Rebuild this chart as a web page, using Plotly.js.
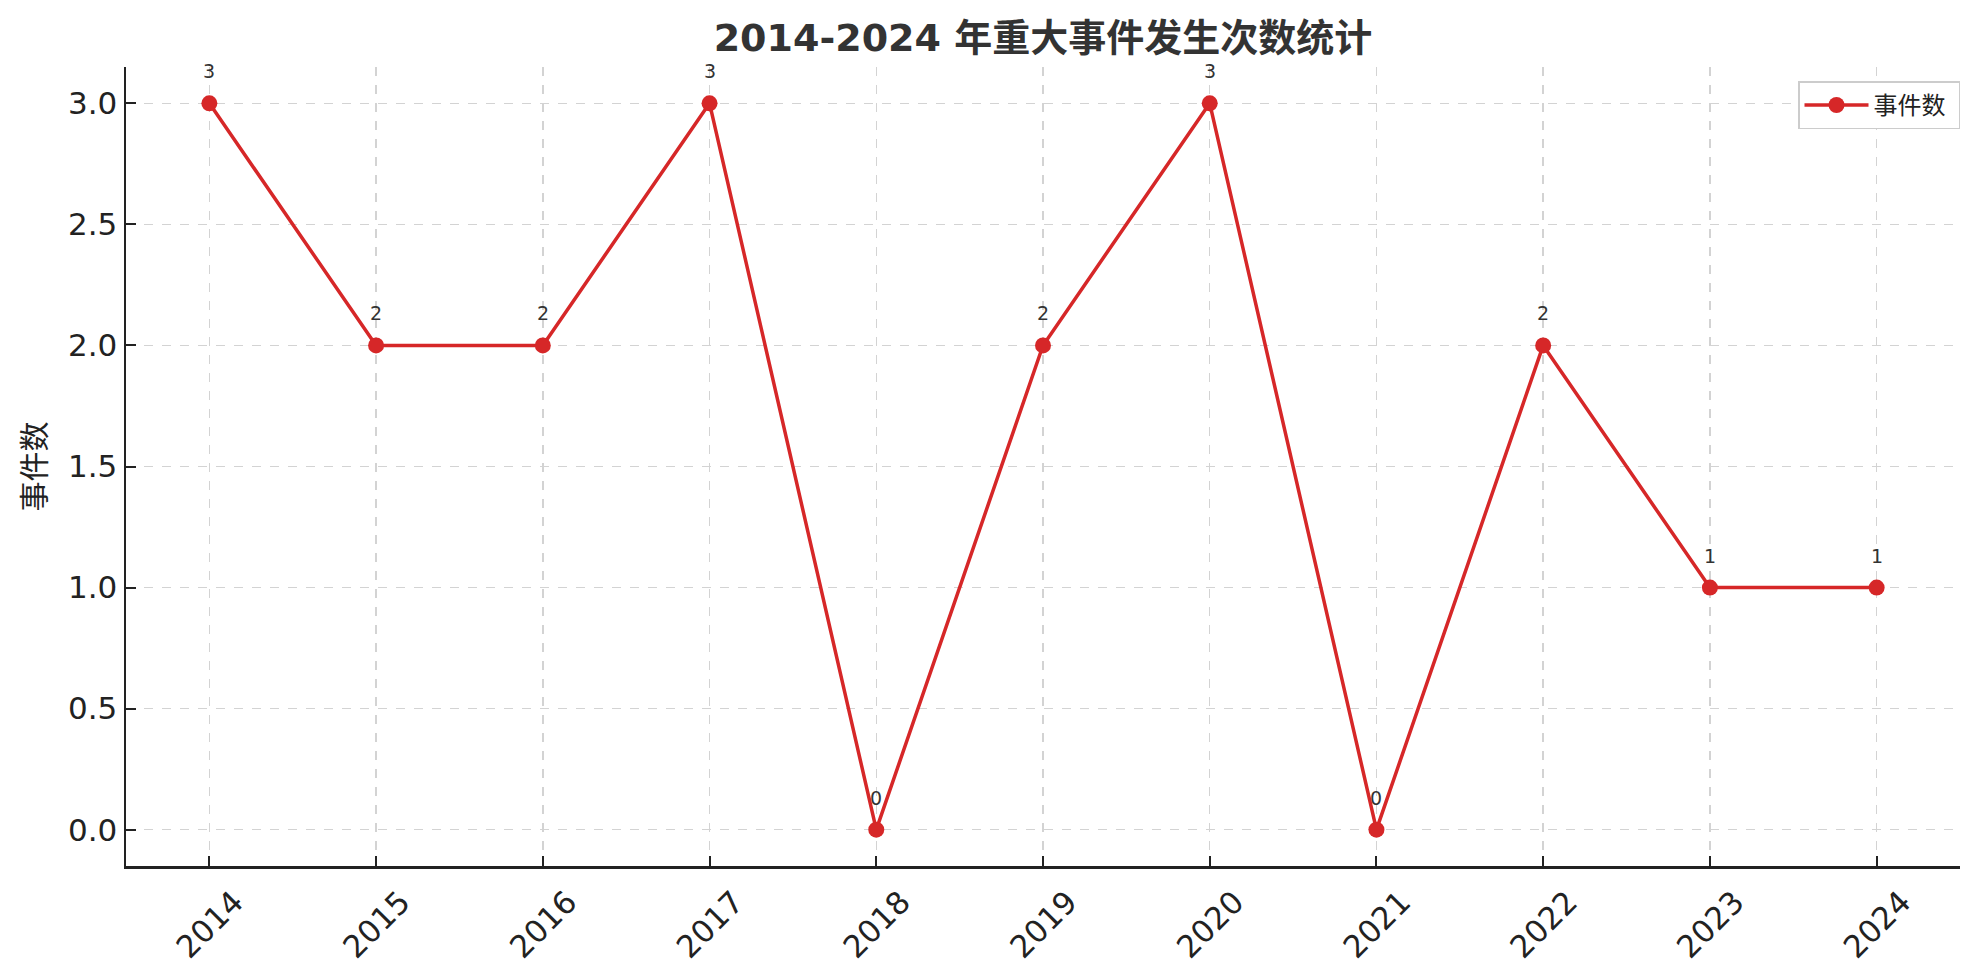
<!DOCTYPE html>
<html>
<head>
<meta charset="utf-8">
<script src="https://cdn.plot.ly/plotly-3.0.1.min.js"></script>
<style>
  html, body { margin: 0; padding: 0; background: #fff; }
  #chart { width: 1979px; height: 980px; }
</style>
</head>
<body>
<div id="chart"></div>
<script>
// data
const years = [2014, 2015, 2016, 2017, 2018, 2019, 2020, 2021, 2022, 2023, 2024];
const counts = [3, 2, 2, 3, 0, 2, 3, 0, 2, 1, 1];
const yTicks = [0, 0.5, 1, 1.5, 2, 2.5, 3];
const seriesName = "事件数";
const chartTitle = "2014-2024 年重大事件发生次数统计";
const yLabel = "事件数";

const FONT = "DejaVu Sans, Noto Sans CJK SC, sans-serif";
const RED = "#d62728";

// value labels above each point
const labels = years.map((yr, i) => ({
    x: yr,
    y: counts[i],
    text: String(counts[i]),
    showarrow: false,
    yanchor: "bottom",
    yshift: 19,
    font: { family: FONT, size: 19, color: "#333" }
}));

Plotly.newPlot("chart", [{
    x: years,
    y: counts,
    name: seriesName + "&nbsp;",
    type: "scatter",
    mode: "lines+markers",
    line: { color: RED, width: 3.5 },
    marker: { color: RED, size: 16 }
}], {
    width: 1979,
    height: 980,
    margin: { l: 126, r: 19, t: 67, b: 114 },
    paper_bgcolor: "#fff",
    plot_bgcolor: "#fff",
    title: {
        text: "<b>" + chartTitle + "</b>",
        font: { family: FONT, size: 38, color: "#333" },
        x: 0.527, xanchor: "center",
        y: 1 - 38 / 980, yanchor: "middle", yref: "container"
    },
    showlegend: true,
    legend: {
        x: 1.0, xanchor: "right",
        y: 0.982, yanchor: "top",
        itemwidth: 64,
        bgcolor: "#fff",
        bordercolor: "#cccccc",
        borderwidth: 1.5,
        font: { family: FONT, size: 24, color: "#222" }
    },
    xaxis: {
        range: [2013.5, 2024.5],
        tickmode: "array",
        tickvals: years,
        ticktext: years.map(String),
        tickangle: -45,
        ticklabelshift: 25,
        ticklabelstandoff: 3,
        ticks: "inside",
        ticklen: 10,
        tickwidth: 2,
        tickcolor: "#222",
        tickfont: { family: FONT, size: 31, color: "#222" },
        showline: true,
        linecolor: "#222",
        linewidth: 2.5,
        showgrid: true,
        gridcolor: "#d3d3d3",
        griddash: "dash",
        gridwidth: 1.5,
        zeroline: false
    },
    yaxis: {
        range: [-0.15, 3.15],
        tickmode: "array",
        tickvals: yTicks,
        ticktext: yTicks.map(v => v.toFixed(1)),
        ticks: "inside",
        ticklen: 10,
        tickwidth: 2,
        tickcolor: "#222",
        tickfont: { family: FONT, size: 31, color: "#222" },
        showline: true,
        linecolor: "#222",
        linewidth: 2.5,
        showgrid: true,
        gridcolor: "#d3d3d3",
        griddash: "dash",
        gridwidth: 1.5,
        zeroline: false,
        title: {
            text: yLabel,
            font: { family: FONT, size: 30, color: "#222" },
            standoff: 14
        }
    },
    annotations: labels
}, { displayModeBar: false, staticPlot: true });
</script>
</body>
</html>
